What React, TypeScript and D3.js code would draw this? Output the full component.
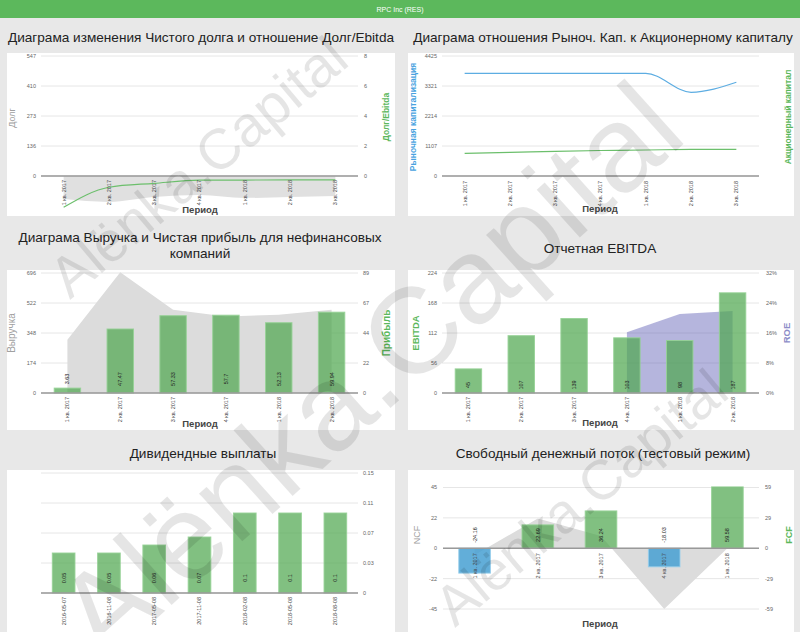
import React from "react";
import * as d3 from "d3";

const FONT = "'Liberation Sans', Arial, sans-serif";

// --- данные ---
const quarters = ["1 кв. 2017", "2 кв. 2017", "3 кв. 2017", "4 кв. 2017", "1 кв. 2018", "2 кв. 2018", "3 кв. 2018"];

const netDebt = [-105, -118, -96, -87, -100, -96, -91];
const debtEbitda = [-2.09, -0.75, -0.49, -0.28, -0.27, -0.26, -0.26];
const debtTicks = ["0", "136", "273", "410", "547"];
const debtEbitdaTicks = ["0", "2", "4", "6", "8"];

const marketCap = [3787, 3787, 3787, 3787, 3787, 3087, 3455];
const equity = [837, 870, 911, 940, 959, 980, 985];
const capTicks = ["0", "1107", "2214", "3321", "4425"];

const revenue = [309, 700, 483, 444, 454, 483];
const profit = [3.63, 47.47, 57.33, 57.7, 52.13, 59.94];
const revenueTicks = ["0", "174", "348", "522", "696"];
const profitTicks = ["0", "22", "44", "67", "89"];

const ebitda = [45, 107, 139, 103, 98, 187];
const roe = [null, null, null, 16.2, 21.1, 21.9];
const ebitdaTicks = ["0", "56", "112", "168", "224"];
const roeTicks = ["0%", "8%", "16%", "24%", "32%"];

const divDates = ["2016-05-07", "2016-11-08", "2017-05-08", "2017-11-08", "2018-02-08", "2018-05-08", "2018-08-08"];
const dividends = [0.05, 0.05, 0.06, 0.07, 0.1, 0.1, 0.1];
const divTicks = ["0", "0.03", "0.07", "0.11", "0.15"];

const ncf = [-5, 22, 9, -45, 0];
const fcf = [-24.16, 22.69, 36.24, -18.03, 59.58];
const ncfTicks = ["-45", "-22", "0", "22", "45"];
const fcfTicks = ["-59", "-29", "0", "29", "59"];

// цвета
const GREEN = "#5cb85c";
const BAR_FILL = "rgba(80,168,80,0.72)";
const BAR_STROKE = "rgba(150,210,150,0.9)";
const BLUE_FILL = "rgba(70,160,210,0.85)";
const BLUE_STROKE = "rgba(150,205,235,0.9)";
const AREA_GRAY = "#dcdcdc";

// равномерные тики от lo до hi
function evenTicks(labels: string[], lo: number, hi: number) {
  return labels.map((l, i) => ({ label: l, v: lo + ((hi - lo) * i) / (labels.length - 1) }));
}

function Grid({ y, ticks, x0, x1 }: any) {
  return (
    <g stroke="#e6e6e6" strokeWidth={1}>
      {ticks.map((t: any, i: number) => (
        <line key={i} x1={x0} x2={x1} y1={y(t.v)} y2={y(t.v)} />
      ))}
    </g>
  );
}

function YTicks({ y, ticks, x, anchor }: any) {
  return (
    <g fontSize={5.5} fill="#666" textAnchor={anchor}>
      {ticks.map((t: any, i: number) => (
        <text key={i} x={x} y={y(t.v)} dy="0.35em">{t.label}</text>
      ))}
    </g>
  );
}

function XLabels({ x, cats, y }: any) {
  const bw = x.bandwidth();
  return (
    <g fontSize={5.5} fill="#444" textAnchor="end">
      {cats.map((c: string) => (
        <text key={c} transform={`translate(${x(c) + bw / 2},${y}) rotate(-90)`} dy="0.35em">{c}</text>
      ))}
    </g>
  );
}

function BarLabels({ x, cats, values, y }: any) {
  const bw = x.bandwidth();
  return (
    <g fontSize={5.5} fill="#222" textAnchor="middle">
      {values.map((v: number, i: number) => (
        <text key={i} transform={`translate(${x(cats[i]) + bw / 2},${y}) rotate(-90)`} dy="0.35em">{String(v)}</text>
      ))}
    </g>
  );
}

function VTitle({ text, x, y, color, size, bold }: any) {
  return (
    <text transform={`translate(${x},${y}) rotate(-90)`} textAnchor="middle" dy="0.35em"
      fontSize={size} fontWeight={bold ? "bold" : "normal"} fill={color}>{text}</text>
  );
}

function Bars({ x, cats, values, y, colorFn }: any) {
  const bw = x.bandwidth();
  return (
    <g>
      {values.map((v: number, i: number) => {
        const c = colorFn ? colorFn(v) : [BAR_FILL, BAR_STROKE];
        return (
          <rect key={i} x={x(cats[i]) + bw * 0.25} width={bw * 0.5}
            y={Math.min(y(v), y(0))} height={Math.abs(y(v) - y(0))}
            fill={c[0]} stroke={c[1]} strokeWidth={1} />
        );
      })}
    </g>
  );
}

function Period({ x, y }: any) {
  return <text x={x} y={y} textAnchor="middle" fontSize={9.5} fontWeight="bold" fill="#444">Период</text>;
}

function Panel({ x, y, w, h }: any) {
  return <rect x={x} y={y} width={w} height={h} fill="#fff" />;
}

// 1. Чистый долг и Долг/Ebitda
function DebtChart() {
  const x = d3.scaleBand().domain(quarters).range([41, 358]);
  const cx = (i: number) => (x(quarters[i]) as number) + x.bandwidth() / 2;
  const yL = d3.scaleLinear().domain([0, 547]).range([176, 56]);
  const yR = d3.scaleLinear().domain([0, 8]).range([176, 56]);
  const lt = evenTicks(debtTicks, 0, 547);
  const rt = evenTicks(debtEbitdaTicks, 0, 8);
  const area = d3.area<number>().x((d, i) => cx(i)).y0(yL(0)).y1((d) => yL(d)).curve(d3.curveMonotoneX);
  const line = d3.line<number>().x((d, i) => cx(i)).y((d) => yR(d)).curve(d3.curveMonotoneX);
  return (
    <g>
      <Panel x={7} y={53} w={388} h={163} />
      <Grid y={yL} ticks={lt} x0={41} x1={358} />
      <path d={area(netDebt) as string} fill="#e0e0e0" />
      <line x1={41} x2={358} y1={yL(0)} y2={yL(0)} stroke="#999" strokeWidth={1.3} />
      <path d={line(debtEbitda) as string} fill="none" stroke="#6cbf6c" strokeWidth={1.2} />
      <XLabels x={x} cats={quarters} y={yL(0) + 4} />
      <YTicks y={yL} ticks={lt} x={36} anchor="end" />
      <YTicks y={yR} ticks={rt} x={364} anchor="start" />
      <VTitle text="Долг" x={12} y={118} color="#a0a0a0" size={9} />
      <VTitle text="Долг/Ebitda" x={386} y={117} color={GREEN} size={8.5} bold />
      <Period x={200} y={213} />
    </g>
  );
}

// 2. Рыночная капитализация и акционерный капитал
function CapChart() {
  const x = d3.scaleBand().domain(quarters).range([442, 759]);
  const cx = (i: number) => (x(quarters[i]) as number) + x.bandwidth() / 2;
  const y = d3.scaleLinear().domain([0, 4425]).range([176, 56]);
  const lt = evenTicks(capTicks, 0, 4425);
  const line = d3.line<number>().x((d, i) => cx(i)).y((d) => y(d)).curve(d3.curveMonotoneX);
  return (
    <g>
      <Panel x={408} y={53} w={386} h={163} />
      <Grid y={y} ticks={lt} x0={442} x1={759} />
      <line x1={442} x2={759} y1={y(0)} y2={y(0)} stroke="#999" strokeWidth={1.3} />
      <path d={line(marketCap) as string} fill="none" stroke="#5dade2" strokeWidth={1.2} />
      <path d={line(equity) as string} fill="none" stroke="#6cbf6c" strokeWidth={1.2} />
      <XLabels x={x} cats={quarters} y={y(0) + 5} />
      <YTicks y={y} ticks={lt} x={437} anchor="end" />
      <VTitle text="Рыночная капитализация" x={413} y={117} color="#4aa3df" size={8.5} bold />
      <VTitle text="Акционерный капитал" x={788} y={117} color={GREEN} size={8.5} bold />
      <Period x={600} y={212} />
    </g>
  );
}

// 3. Выручка и чистая прибыль
function RevenueChart() {
  const cats = quarters.slice(0, 6);
  const x = d3.scaleBand().domain(cats).range([41, 358]);
  const cx = (i: number) => (x(cats[i]) as number) + x.bandwidth() / 2;
  const yL = d3.scaleLinear().domain([0, 696]).range([393, 273]);
  const yR = d3.scaleLinear().domain([0, 89]).range([393, 273]);
  const lt = evenTicks(revenueTicks, 0, 696);
  const rt = evenTicks(profitTicks, 0, 89);
  const area = d3.area<number>().x((d, i) => cx(i)).y0(yL(0)).y1((d) => yL(d));
  return (
    <g>
      <Panel x={7} y={270} w={388} h={160} />
      <Grid y={yL} ticks={lt} x0={41} x1={358} />
      <path d={area(revenue) as string} fill={AREA_GRAY} />
      <Bars x={x} cats={cats} values={profit} y={yR} />
      <line x1={41} x2={358} y1={yL(0)} y2={yL(0)} stroke="#999" strokeWidth={1.3} />
      <BarLabels x={x} cats={cats} values={profit} y={379} />
      <XLabels x={x} cats={cats} y={yL(0) + 4} />
      <YTicks y={yL} ticks={lt} x={36} anchor="end" />
      <YTicks y={yR} ticks={rt} x={363} anchor="start" />
      <VTitle text="Выручка" x={11} y={333} color="#a0a0a0" size={10} />
      <VTitle text="Прибыль" x={386} y={333} color={GREEN} size={10} bold />
      <Period x={200} y={427} />
    </g>
  );
}

// 4. EBITDA и ROE
function EbitdaChart() {
  const cats = quarters.slice(0, 6);
  const x = d3.scaleBand().domain(cats).range([442, 759]);
  const cx = (i: number) => (x(cats[i]) as number) + x.bandwidth() / 2;
  const yL = d3.scaleLinear().domain([0, 224]).range([393, 273]);
  const yR = d3.scaleLinear().domain([0, 32]).range([393, 273]);
  const lt = evenTicks(ebitdaTicks, 0, 224);
  const rt = evenTicks(roeTicks, 0, 32);
  const area = d3.area<number | null>()
    .defined((d) => d !== null)
    .x((d, i) => cx(i)).y0(yR(0)).y1((d) => yR(d as number));
  return (
    <g>
      <Panel x={408} y={270} w={386} h={160} />
      <Grid y={yL} ticks={lt} x0={442} x1={759} />
      <path d={area(roe) as string} fill="rgba(90,90,180,0.45)" />
      <Bars x={x} cats={cats} values={ebitda} y={yL} />
      <line x1={442} x2={759} y1={yL(0)} y2={yL(0)} stroke="#999" strokeWidth={1.3} />
      <BarLabels x={x} cats={cats} values={ebitda} y={385} />
      <XLabels x={x} cats={cats} y={yL(0) + 4} />
      <YTicks y={yL} ticks={lt} x={437} anchor="end" />
      <YTicks y={yR} ticks={rt} x={766} anchor="start" />
      <VTitle text="EBITDA" x={416} y={333} color={GREEN} size={9.5} bold />
      <VTitle text="ROE" x={787} y={333} color="#8d8dc8" size={9.5} bold />
      <Period x={600} y={426} />
    </g>
  );
}

// 5. Дивиденды
function DividendChart() {
  const x = d3.scaleBand().domain(divDates).range([41, 358]);
  const y = d3.scaleLinear().domain([0, 0.15]).range([593, 473]);
  const rt = evenTicks(divTicks, 0, 0.15);
  return (
    <g>
      <Panel x={7} y={470} w={388} h={162} />
      <Grid y={y} ticks={rt} x0={41} x1={358} />
      <Bars x={x} cats={divDates} values={dividends} y={y} />
      <line x1={41} x2={358} y1={y(0)} y2={y(0)} stroke="#999" strokeWidth={1.3} />
      <BarLabels x={x} cats={divDates} values={dividends} y={578} />
      <XLabels x={x} cats={divDates} y={y(0) + 4} />
      <YTicks y={y} ticks={rt} x={363} anchor="start" />
    </g>
  );
}

// 6. Свободный денежный поток
function CashFlowChart() {
  const cats = quarters.slice(0, 5);
  const x = d3.scaleBand().domain(cats).range([443, 759]);
  const cx = (i: number) => (x(cats[i]) as number) + x.bandwidth() / 2;
  const yL = d3.scaleLinear().domain([-45, 45]).range([609, 487.5]);
  const yR = d3.scaleLinear().domain([-59, 59]).range([609, 487.5]);
  const lt = evenTicks(ncfTicks, -45, 45);
  const rt = evenTicks(fcfTicks, -59, 59);
  const area = d3.area<number>().x((d, i) => cx(i)).y0(yL(0)).y1((d) => yL(d));
  const col = (v: number) => (v < 0 ? [BLUE_FILL, BLUE_STROKE] : [BAR_FILL, BAR_STROKE]);
  return (
    <g>
      <Panel x={408} y={470} w={386} h={162} />
      <Grid y={yL} ticks={lt} x0={443} x1={759} />
      <path d={area(ncf) as string} fill={AREA_GRAY} />
      <Bars x={x} cats={cats} values={fcf} y={yR} colorFn={col} />
      <line x1={443} x2={759} y1={yL(0)} y2={yL(0)} stroke="#999" strokeWidth={1.3} />
      <BarLabels x={x} cats={cats} values={fcf} y={535} />
      <XLabels x={x} cats={cats} y={yL(0) + 5} />
      <YTicks y={yL} ticks={lt} x={437} anchor="end" />
      <YTicks y={yR} ticks={rt} x={765} anchor="start" />
      <VTitle text="NCF" x={417} y={535} color="#a0a0a0" size={9} />
      <VTitle text="FCF" x={789} y={535} color={GREEN} size={9} bold />
      <Period x={600} y={627} />
    </g>
  );
}

function Watermarks() {
  const marks = [
    { x: 70, y: 300, size: 57, angle: -40 },
    { x: 105, y: 665, size: 122, angle: -42 },
    { x: 455, y: 628, size: 56, angle: -40 },
  ];
  return (
    <g fill="rgba(0,0,0,0.1)" fontFamily={FONT} style={{ pointerEvents: "none" }}>
      {marks.map((m, i) => (
        <text key={i} transform={`translate(${m.x},${m.y}) rotate(${m.angle})`} fontSize={m.size}>Alёnka.Capital</text>
      ))}
    </g>
  );
}

export default function App() {
  return (
    <div>
      <style>{"body{margin:0}"}</style>
      <svg width={800} height={632} style={{ display: "block", fontFamily: FONT }}>
        <rect width={800} height={632} fill="#e8e8e8" />
        <rect width={800} height={18} fill={GREEN} />
        <text x={400} y={11.5} textAnchor="middle" fontSize={7} fill="#fff">RPC Inc (RES)</text>

        <g fontSize={13.6} fill="#222" textAnchor="middle">
          <text x={201} y={42}>Диаграма изменения Чистого долга и отношение Долг/Ebitda</text>
          <text x={603} y={42}>Диаграма отношения Рыноч. Кап. к Акционерному капиталу</text>
          <text x={200} y={242}>Диаграма Выручка и Чистая прибыль для нефинансовых</text>
          <text x={200} y={258}>компаний</text>
          <text x={600} y={253}>Отчетная EBITDA</text>
          <text x={203} y={458}>Дивидендные выплаты</text>
          <text x={603} y={458}>Свободный денежный поток (тестовый режим)</text>
        </g>

        <DebtChart />
        <CapChart />
        <RevenueChart />
        <EbitdaChart />
        <DividendChart />
        <CashFlowChart />
        <Watermarks />
      </svg>
    </div>
  );
}
